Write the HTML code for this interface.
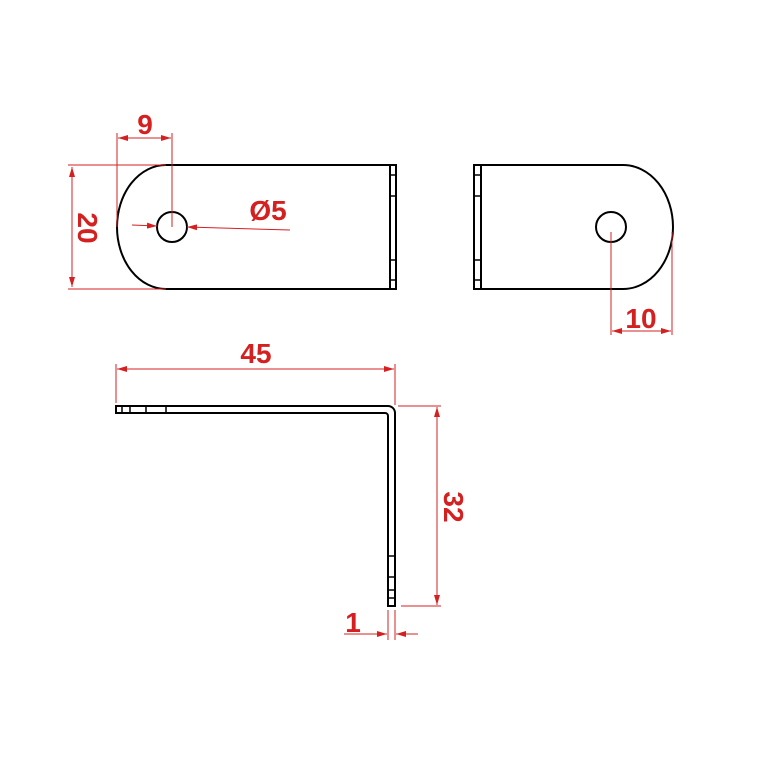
<!DOCTYPE html>
<html><head><style>body{margin:0;background:#fff}svg{display:block}</style></head><body>
<svg width="780" height="780" viewBox="0 0 780 780" xmlns="http://www.w3.org/2000/svg">
<defs>
<marker id="a" viewBox="0 0 10 6" refX="10" refY="3" markerWidth="10" markerHeight="6" orient="auto-start-reverse" markerUnits="userSpaceOnUse"><path d="M0,0L10,3L0,6z" fill="#d42020"/></marker>
</defs>
<g fill="none" stroke="#000" stroke-width="2">
<path d="M396,165 H166 A49,62 0 0 0 166,289 H396 Z"/>
<line x1="390" y1="165" x2="390" y2="289"/>
<line x1="390" y1="175" x2="396" y2="175" stroke-width="1.5"/>
<line x1="390" y1="196" x2="396" y2="196" stroke-width="1.5"/>
<line x1="390" y1="260" x2="396" y2="260" stroke-width="1.5"/>
<line x1="390" y1="280" x2="396" y2="280" stroke-width="1.5"/>
<circle cx="172" cy="227" r="15"/>
<path d="M474,165 H623 A50,62 0 0 1 623,289 H474 Z"/>
<line x1="481" y1="165" x2="481" y2="289"/>
<line x1="474" y1="175" x2="481" y2="175" stroke-width="1.5"/>
<line x1="474" y1="196" x2="481" y2="196" stroke-width="1.5"/>
<line x1="474" y1="260" x2="481" y2="260" stroke-width="1.5"/>
<line x1="474" y1="280" x2="481" y2="280" stroke-width="1.5"/>
<circle cx="611" cy="227" r="15"/>
<path d="M116,406 H388 A7,7 0 0 1 395,413 V606 H388 V416 A3,3 0 0 0 385,413 H116 Z"/>
<line x1="122" y1="406" x2="122" y2="413" stroke-width="1.5"/>
<line x1="130" y1="406" x2="130" y2="413" stroke-width="1.5"/>
<line x1="146" y1="406" x2="146" y2="413" stroke-width="1.5"/>
<line x1="166" y1="406" x2="166" y2="413" stroke-width="1.5"/>
<line x1="388" y1="556" x2="395" y2="556" stroke-width="1.5"/>
<line x1="388" y1="577" x2="395" y2="577" stroke-width="1.5"/>
<line x1="388" y1="590" x2="395" y2="590" stroke-width="1.5"/>
<line x1="388" y1="598" x2="395" y2="598" stroke-width="1.5"/>
</g>
<g stroke="#d42020" stroke-width="1" fill="none">
<line x1="68" y1="165" x2="166" y2="165"/>
<line x1="68" y1="289" x2="166" y2="289"/>
<line x1="72" y1="167" x2="72" y2="287" marker-start="url(#a)" marker-end="url(#a)"/>
<line x1="117" y1="133" x2="117" y2="227"/>
<line x1="172" y1="133" x2="172" y2="227"/>
<line x1="118" y1="138" x2="171" y2="138" marker-start="url(#a)" marker-end="url(#a)"/>
<line x1="132" y1="225" x2="157" y2="226" marker-end="url(#a)"/>
<line x1="290" y1="230" x2="187" y2="227" marker-end="url(#a)"/>
<line x1="611" y1="232" x2="611" y2="335"/>
<line x1="672" y1="232" x2="672" y2="335"/>
<line x1="612" y1="331" x2="671" y2="331" marker-start="url(#a)" marker-end="url(#a)"/>
<line x1="116" y1="364" x2="116" y2="403"/>
<line x1="395" y1="364" x2="395" y2="405"/>
<line x1="117" y1="369" x2="394" y2="369" marker-start="url(#a)" marker-end="url(#a)"/>
<line x1="398" y1="406" x2="441" y2="406"/>
<line x1="401" y1="606" x2="441" y2="606"/>
<line x1="437" y1="407" x2="437" y2="605" marker-start="url(#a)" marker-end="url(#a)"/>
<line x1="388" y1="610" x2="388" y2="640"/>
<line x1="395" y1="610" x2="395" y2="640"/>
<line x1="344" y1="634" x2="387" y2="634" marker-end="url(#a)"/>
<line x1="418" y1="634" x2="396" y2="634" marker-end="url(#a)"/>
</g>
<g fill="#d42020" font-family="Liberation Sans, sans-serif" font-weight="bold" font-size="28" text-anchor="middle">
<text x="145" y="134">9</text>
<text x="268" y="220">Ø5</text>
<text x="641" y="328">10</text>
<text x="256" y="363">45</text>
<text x="353" y="632">1</text>
<text transform="translate(78,228) rotate(90)">20</text>
<text transform="translate(444,507) rotate(90)">32</text>
</g>
</svg>
</body></html>
